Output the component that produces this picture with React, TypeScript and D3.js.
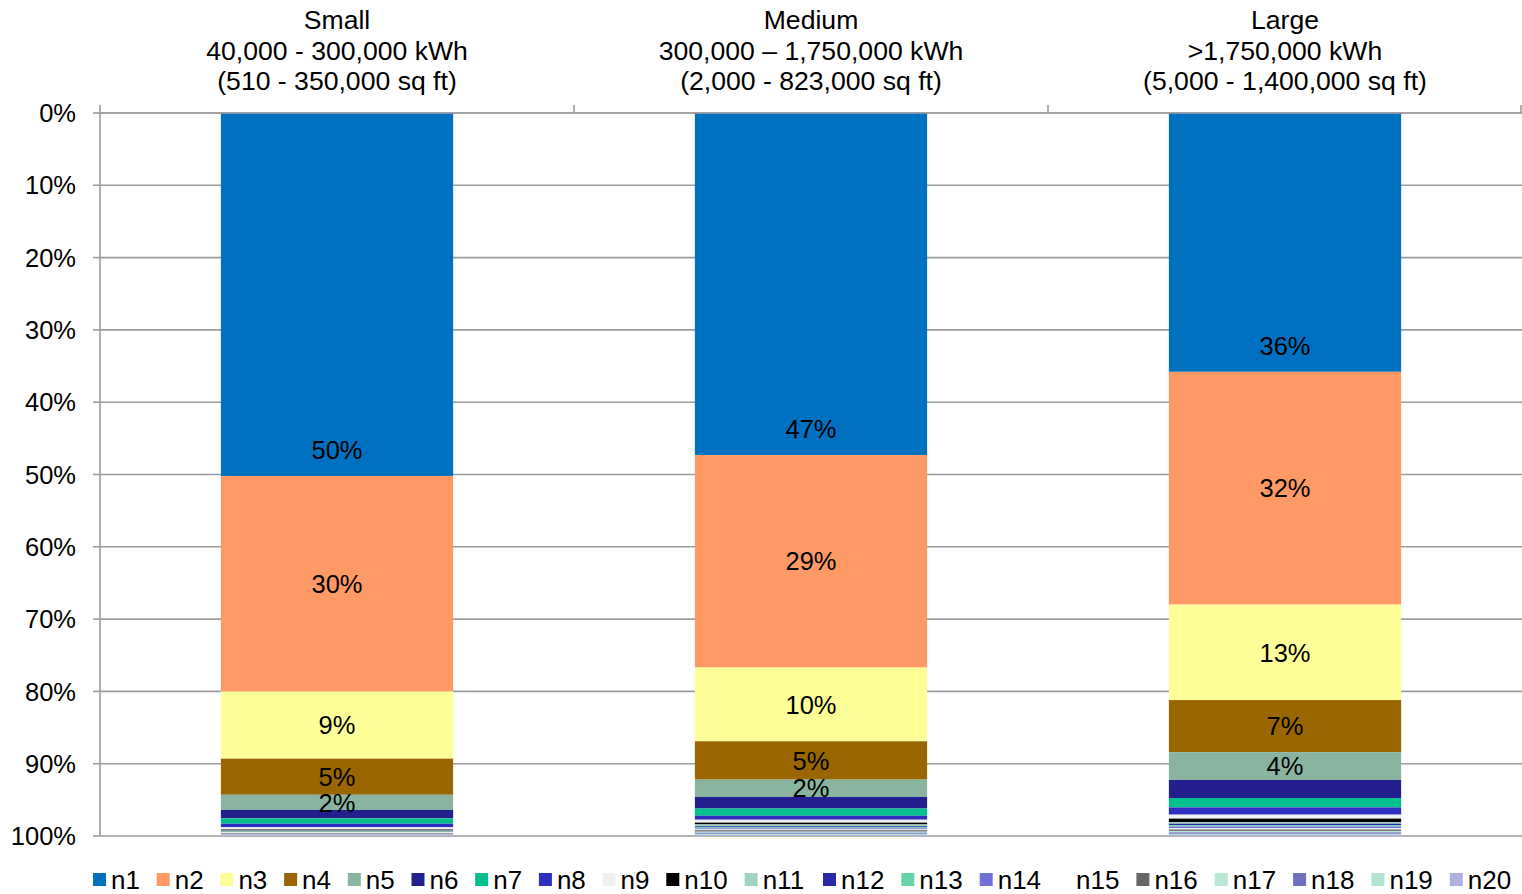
import React from "react";
import * as d3 from "d3";

// Building size classes (column headings, three lines each)
const categories = ["Small", "Medium", "Large"];
const headingLines: string[][] = [
  ["Small", "40,000 - 300,000 kWh", "(510 - 350,000 sq ft)"],
  ["Medium", "300,000 \u2013 1,750,000 kWh", "(2,000 - 823,000 sq ft)"],
  ["Large", ">1,750,000 kWh", "(5,000 - 1,400,000 sq ft)"],
];

// Series names n1..n20
const seriesKeys = [
  "n1", "n2", "n3", "n4", "n5", "n6", "n7", "n8", "n9", "n10",
  "n11", "n12", "n13", "n14", "n15", "n16", "n17", "n18", "n19", "n20",
];

// Share (%) of each series per size class
const smallValues = [50.2, 29.8, 9.3, 5.0, 2.1, 1.15, 0.75, 0.5, 0.3, 0.15, 0.1, 0.05, 0.05, 0.05, 0.1, 0.1, 0.1, 0.05, 0.05, 0.1];
const mediumValues = [47.3, 29.4, 10.2, 5.3, 2.4, 1.6, 1.0, 0.55, 0.4, 0.25, 0.25, 0.15, 0.15, 0.15, 0.1, 0.2, 0.15, 0.15, 0.15, 0.15];
const largeValues = [35.8, 32.2, 13.2, 7.2, 3.85, 2.5, 1.3, 1.0, 0.55, 0.5, 0.2, 0.2, 0.2, 0.25, 0.15, 0.2, 0.2, 0.2, 0.15, 0.15];

const seriesColors = [
  "#0070C0", "#FF9966", "#FFFF99", "#996600", "#88B4A0",
  "#231F8F", "#00BF8F", "#2E2EC0", "#F0F0F0", "#000000",
  "#A0D4C0", "#2828A8", "#66D4A8", "#7070D8", "#FFFFFF",
  "#666666", "#B8E8D4", "#7070C0", "#B0E4D0", "#B0B0E0",
];

// Value axis ticks
const tickValues = [0, 10, 20, 30, 40, 50, 60, 70, 80, 90, 100];

// Only the first five series carry data labels
const labelledSeries = 5;

const W = 1522;
const H = 894;
const FONT = "'Liberation Sans', Arial, sans-serif";

export default function App() {
  const valuesByCat = [smallValues, mediumValues, largeValues];
  const rows = categories.map((c, i) => {
    const r: Record<string, number | string> = { cat: c };
    seriesKeys.forEach((k, j) => (r[k] = valuesByCat[i][j]));
    return r;
  });

  const stacked = d3.stack<Record<string, number | string>>().keys(seriesKeys)(rows as any);

  const x = d3
    .scaleBand<string>()
    .domain(categories)
    .range([100, 1522])
    .paddingInner(0.51)
    .paddingOuter(0.255);
  const y = d3.scaleLinear().domain([0, 100]).range([113, 836]);
  const color = d3.scaleOrdinal<string, string>().domain(seriesKeys).range(seriesColors);

  const step = x.step();
  const plotLeft = 100;
  const plotRight = 1522;

  // Legend positions: width grows with label length
  let lx = 93;
  const legendItems = seriesKeys.map((k) => {
    const item = { key: k, x: lx };
    lx += 34.4 + 14.65 * k.length;
    return item;
  });

  return (
    <>
      <style>{"body{margin:0;}"}</style>
      <svg width={W} height={H} style={{ display: "block", background: "#fff" }} fontFamily={FONT}>
        {/* gridlines */}
        {tickValues.map((t) => (
          <line key={"g" + t} x1={plotLeft} x2={plotRight} y1={y(t)} y2={y(t)} stroke="#9C9C9C" strokeWidth={1.6} />
        ))}

        {/* stacked bars */}
        {stacked.map((layer) => (
          <g key={layer.key} fill={color(layer.key)}>
            {layer.map((d, ci) => {
              const cat = categories[ci];
              return (
                <rect
                  key={cat}
                  x={x(cat)}
                  width={x.bandwidth()}
                  y={y(d[0])}
                  height={Math.max(0, y(d[1]) - y(d[0]))}
                />
              );
            })}
          </g>
        ))}

        {/* data labels */}
        {stacked.slice(0, labelledSeries).map((layer, li) =>
          layer.map((d, ci) => {
            const cat = categories[ci];
            const v = d[1] - d[0];
            const cy = li === 0 ? y(d[1]) - 26 : (y(d[0]) + y(d[1])) / 2;
            return (
              <text
                key={layer.key + cat}
                x={(x(cat) as number) + x.bandwidth() / 2}
                y={cy}
                dy="0.36em"
                textAnchor="middle"
                fontSize={25.5}
                fill="#000"
              >
                {Math.round(v) + "%"}
              </text>
            );
          })
        )}

        {/* value axis */}
        <line x1={plotLeft} x2={plotLeft} y1={y(0)} y2={y(100)} stroke="#9C9C9C" strokeWidth={1.6} />
        {tickValues.map((t) => (
          <g key={"t" + t}>
            <line x1={plotLeft - 7} x2={plotLeft} y1={y(t)} y2={y(t)} stroke="#9C9C9C" strokeWidth={1.6} />
            <text x={76} y={y(t)} dy="0.36em" textAnchor="end" fontSize={25.5} fill="#000">
              {t + "%"}
            </text>
          </g>
        ))}

        {/* category axis along the top */}
        <line x1={plotLeft} x2={plotRight} y1={y(0)} y2={y(0)} stroke="#9C9C9C" strokeWidth={1.6} />
        {d3.range(categories.length + 1).map((i) => (
          <line
            key={"ct" + i}
            x1={Math.min(plotLeft + i * step, plotRight - 1)}
            x2={Math.min(plotLeft + i * step, plotRight - 1)}
            y1={y(0) - 8}
            y2={y(0)}
            stroke="#9C9C9C"
            strokeWidth={1.6}
          />
        ))}
        {categories.map((c, i) => (
          <text key={"h" + c} textAnchor="middle" fontSize={26.6} fill="#000">
            {headingLines[i].map((line, li) => (
              <tspan key={li} x={(x(c) as number) + x.bandwidth() / 2} y={29 + li * 30.5}>
                {line}
              </tspan>
            ))}
          </text>
        ))}

        {/* legend */}
        {legendItems.map((it, i) => (
          <g key={"l" + it.key}>
            <rect x={it.x} y={873} width={13} height={13} fill={seriesColors[i]} />
            <text x={it.x + 18} y={880} dy="0.36em" fontSize={26} fill="#000">
              {it.key}
            </text>
          </g>
        ))}
      </svg>
    </>
  );
}
